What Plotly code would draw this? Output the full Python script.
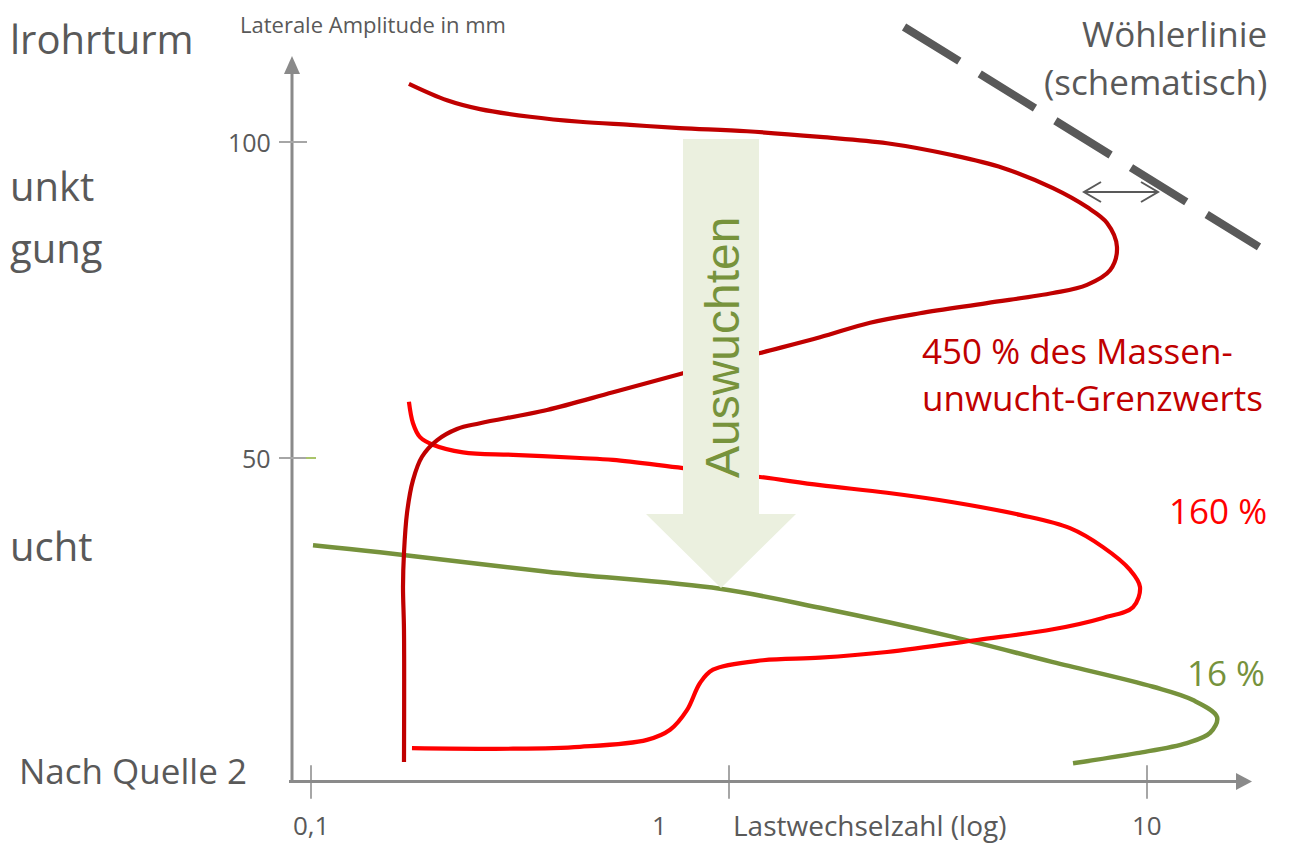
import math
import plotly.graph_objects as go

# ---------------- data (load cycles, lateral amplitude in mm) ----------------
n_450 = [0.1715, 0.2115, 0.2537, 0.3341, 0.44, 0.5798, 0.7634, 1.104, 1.651, 2.388,
         3.435, 4.524, 5.958, 7.186, 8.023, 8.475, 8.157, 7.186, 5.958, 4.141,
         2.863, 2.175, 1.651, 1.186, 0.7762, 0.5279, 0.367, 0.2537, 0.2235, 0.2001,
         0.1843, 0.1754, 0.1697, 0.1669, 0.166, 0.1669, 0.1669]
a_450 = [109.2, 106.6, 105.2, 104.0, 103.2, 102.7, 102.2, 101.7, 100.8, 99.8,
         97.9, 95.9, 92.7, 89.7, 87.2, 83.4, 79.7, 77.4, 76.1, 74.5,
         72.9, 71.4, 69.1, 66.6, 63.4, 60.4, 57.6, 55.5, 54.6, 52.8,
         50.2, 46.5, 41.3, 35.0, 29.6, 22.8, 1.9]

n_160 = [0.1715, 0.1754, 0.1823, 0.1957, 0.231, 0.3043, 0.44, 0.5279, 0.7762, 1.186,
         1.651, 2.388, 3.435, 4.969, 6.543, 7.848, 9.107, 9.622, 9.257, 7.848,
         5.958, 3.921, 2.388, 1.651, 1.206, 0.9156, 0.8524, 0.7932, 0.7228, 0.6365,
         0.44, 0.3043, 0.1744]
a_160 = [58.9, 55.5, 53.3, 52.1, 50.9, 50.5, 50.0, 49.7, 48.4, 47.0,
         45.7, 44.5, 43.0, 41.0, 38.9, 35.9, 32.3, 29.6, 26.4, 24.7,
         22.9, 21.2, 19.3, 18.4, 18.0, 16.5, 14.4, 10.1, 7.0, 5.4,
         4.3, 4.0, 4.1]

n_16 = [0.1011, 0.1462, 0.367, 0.9517, 1.651, 3.435, 5.958, 10.34, 12.88, 14.71,
        14.15, 12.46, 9.465, 6.653]
a_16 = [36.2, 35.1, 32.0, 29.3, 26.3, 21.7, 17.7, 13.8, 11.7, 9.0,
        6.5, 4.9, 3.3, 1.7]

n_woehler = [2.623, 18.53]
a_woehler = [118.2, 83.4]

x_tick_vals = [0.1, 1, 10]
x_tick_text = ["0,1", "1", "10"]
y_tick_vals = [50, 100]
y_tick_text = ["50", "100"]

labels_450 = ["450 % des Massen-", "unwucht-Grenzwerts"]
label_160 = "160 %"
label_16 = "16 %"

# ---------------- styling ----------------
W, H = 1295, 844          # window size
OFF = 8                   # default page body margin
FW, FH = W - OFF, H - OFF  # figure size
FONT = "Open Sans"
GREY_TXT = "#595959"
AXIS_COL = "#8A8A8A"
TICK_COL = "#A6A6A6"
DARKRED = "#C00000"
RED = "#FF0000"
GREEN = "#76923C"


def px(x):
    return (x - OFF) / FW


def py(y):
    return 1 - (y - OFF) / FH


def path(points, close=False):
    s = "M " + " L ".join(f"{px(x):.5f},{py(y):.5f}" for x, y in points)
    return s + (" Z" if close else "")


fig = go.Figure()

fig.add_trace(go.Scatter(x=n_woehler, y=a_woehler, mode="lines",
                         line=dict(color="#595959", width=8, dash="65px,24px")))
fig.add_trace(go.Scatter(x=n_16, y=a_16, mode="lines",
                         line=dict(color=GREEN, width=4.5, shape="spline", smoothing=1)))
fig.add_trace(go.Scatter(x=n_160, y=a_160, mode="lines",
                         line=dict(color=RED, width=4.2, shape="spline", smoothing=1)))
fig.add_trace(go.Scatter(x=n_450, y=a_450, mode="lines",
                         line=dict(color=DARKRED, width=4.2, shape="spline", smoothing=1)))

# x tick marks (crossing the axis)
tx, ty = [], []
for v in x_tick_vals:
    tx += [v, v, None]
    ty += [1.4, -3.9, None]
fig.add_trace(go.Scatter(x=tx, y=ty, mode="lines", line=dict(color=TICK_COL, width=2)))

shapes = []
# axes
shapes.append(dict(type="line", xref="paper", yref="paper", x0=px(292), y0=py(783), x1=px(292), y1=py(70),
                   line=dict(color=AXIS_COL, width=3)))
shapes.append(dict(type="path", xref="paper", yref="paper",
                   path=path([(284, 74), (300, 74), (292, 56)], True),
                   fillcolor=AXIS_COL, line=dict(width=0)))
shapes.append(dict(type="line", xref="paper", yref="paper", x0=px(289), y0=py(781.5), x1=px(1238), y1=py(781.5),
                   line=dict(color=AXIS_COL, width=3)))
shapes.append(dict(type="path", xref="paper", yref="paper",
                   path=path([(1236, 773), (1236, 790), (1252, 781.5)], True),
                   fillcolor=AXIS_COL, line=dict(width=0)))
# y tick marks
for v in y_tick_vals:
    shapes.append(dict(type="line", xref="paper", yref="y", x0=px(279), x1=px(307), y0=v, y1=v,
                       line=dict(color=TICK_COL, width=2)))
shapes.append(dict(type="line", xref="paper", yref="y", x0=px(306), x1=px(316), y0=50, y1=50,
                   line=dict(color="#A9C46A", width=2)))

# "Auswuchten" arrow
shapes.append(dict(type="path", xref="paper", yref="paper", layer="above",
                   path=path([(683, 139), (759, 139), (759, 514), (796, 514), (721, 588),
                              (646, 514), (683, 514)], True),
                   fillcolor="#EBF0DF", line=dict(width=0)))
# double arrow at the Woehler line
shapes.append(dict(type="path", xref="paper", yref="paper",
                   path=path([(1084, 192), (1158, 192)]) + " " +
                   path([(1101, 182), (1084, 192), (1101, 202)]) + " " +
                   path([(1141, 182), (1158, 192), (1141, 202)]),
                   line=dict(color="#595959", width=2)))

ann = []


def text(t, x, y, size, color=GREY_TXT, xanchor="left", family=FONT, yref="paper", **kw):
    ann.append(dict(text=t, x=px(x), y=(py(y) if yref == "paper" else y), xref="paper", yref=yref,
                    xanchor=xanchor, yanchor="middle", showarrow=False,
                    font=dict(family=family, size=size, color=color), **kw))


# axis titles
text("Laterale Amplitude in mm", 238, 24, 22)
text("Lastwechselzahl (log)", 731, 825, 28)
# y tick labels
for v, t in zip(y_tick_vals, y_tick_text):
    text(t, 273, v, 25, xanchor="right", yref="y")
# x tick labels (placed at their tick value via the log scale)
x_shift = {"0,1": 0, "1": -70, "10": 0}
for v, t in zip(x_tick_vals, x_tick_text):
    ann.append(dict(text=t, x=math.log10(v), y=py(825), xref="x", yref="paper",
                    xanchor="center", yanchor="middle", showarrow=False, xshift=x_shift[t],
                    font=dict(family=FONT, size=26, color=GREY_TXT)))

text("Wöhlerlinie", 1269, 34, 35, xanchor="right")
text("(schematisch)", 1269, 81, 35, xanchor="right")
text(labels_450[0], 920, 350, 35, color=DARKRED)
text(labels_450[1], 920, 397, 35, color=DARKRED)
text(label_160, 1269, 510, 35, color=RED, xanchor="right")
text(label_16, 1267, 672, 35, color=GREEN, xanchor="right")

text("lrohrturm", OFF, 39, 40)
text("unkt", OFF, 185, 40)
text("gung", OFF, 247, 40)
text("ucht", OFF, 545, 40)
text("Nach Quelle 2", 17, 770, 35)

ann.append(dict(text="Auswuchten", x=px(722), y=py(347), xref="paper", yref="paper",
                xanchor="center", yanchor="middle", showarrow=False, textangle=-90,
                font=dict(family="Liberation Sans", size=48, color="#77933C")))

x_lo = -1 + (OFF - 311) / 418
x_hi = -1 + (W - 311) / 418
y_lo = (774 - H) / 6.32
y_hi = (774 - OFF) / 6.32

fig.update_layout(
    width=FW, height=FH,
    margin=dict(l=0, r=0, t=0, b=0),
    paper_bgcolor="white", plot_bgcolor="white",
    showlegend=False, hovermode=False,
    xaxis=dict(type="log", range=[x_lo, x_hi], visible=False, fixedrange=True),
    yaxis=dict(range=[y_lo, y_hi], visible=False, fixedrange=True),
    shapes=shapes, annotations=ann,
)

fig.write_html("out.html", config={"displayModeBar": False})
